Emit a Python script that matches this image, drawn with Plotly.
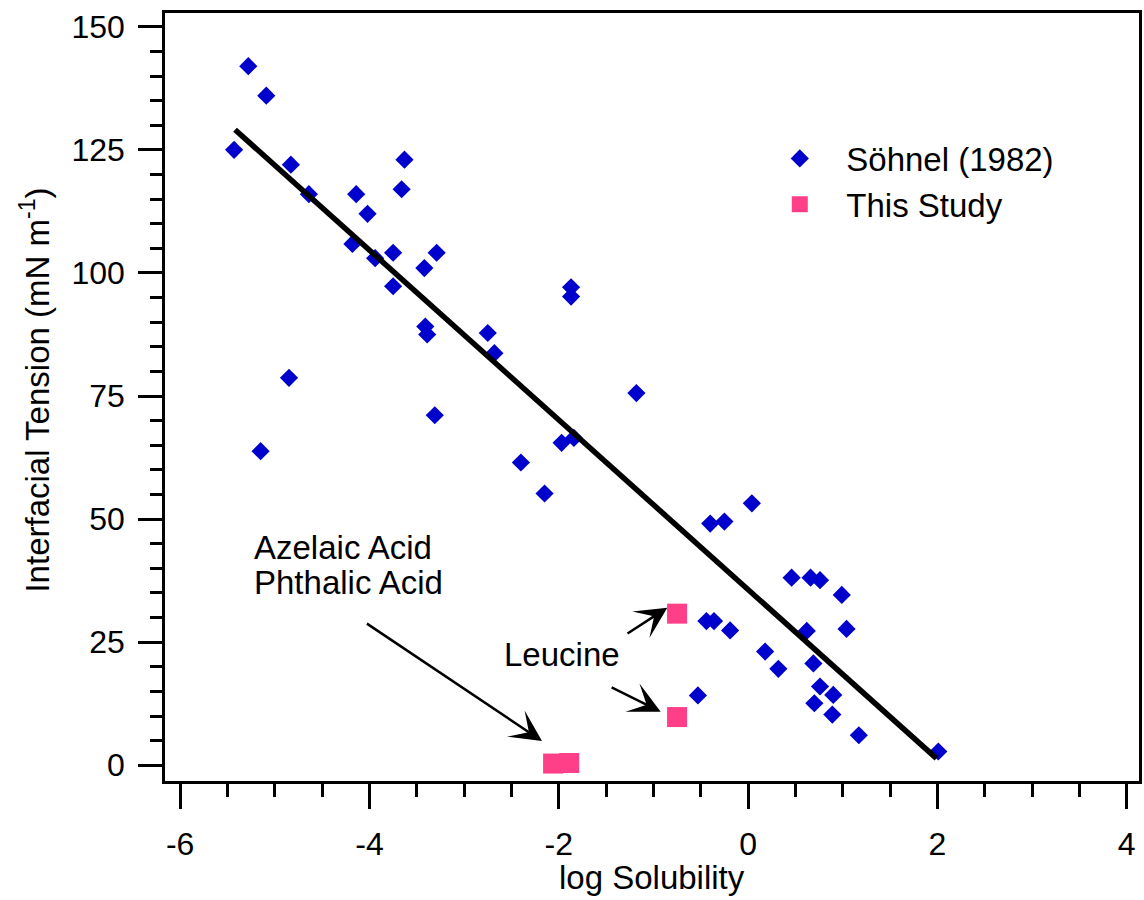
import plotly.graph_objects as go

# Söhnel (1982) data: log solubility vs interfacial tension (mN/m)
sohnel_x = [-5.43, -5.28, -5.09, -5.15, -4.85, -4.83, -4.64, -4.14, -4.18, -4.02,
            -3.94, -3.75, -3.75, -3.63, -3.66, -3.42, -3.41, -3.39, -3.29, -3.31,
            -2.75, -2.68, -2.40, -2.15, -1.97, -1.84, -1.87, -1.87, -1.18, -0.53,
            -0.40, -0.25, 0.04, -0.44, -0.36, -0.19, 0.18, 0.32, 0.46, 0.66,
            0.76, 0.99, 0.62, 1.04, 0.69, 0.76, 0.90, 0.70, 0.89, 1.17, 2.01]
sohnel_y = [125.0, 142.0, 136.0, 63.8, 78.7, 122.0, 116.0, 116.0, 105.9, 112.0,
            103.0, 104.1, 97.3, 123.0, 117.0, 101.0, 89.1, 87.5, 104.1, 71.1,
            87.8, 83.7, 61.5, 55.2, 65.5, 66.5, 97.1, 95.2, 75.6, 14.2,
            49.1, 49.5, 53.2, 29.3, 29.3, 27.4, 23.1, 19.6, 38.1, 38.1,
            37.6, 34.6, 27.3, 27.7, 20.7, 16.0, 14.3, 12.6, 10.3, 6.1, 2.8]

# This study
study_x = [-0.75, -0.75, -2.06, -1.89]
study_y = [30.8, 9.8, 0.35, 0.47]

# Linear fit (endpoints)
fit_x = [-5.42, 1.99]
fit_y = [129.1, 1.4]

x_ticks = [-6, -4, -2, 0, 2, 4]
x_ticktext = ["-6", "-4", "-2", "0", "2", "4"]
y_ticks = [0, 25, 50, 75, 100, 125, 150]
y_ticktext = ["0", "25", "50", "75", "100", "125", "150"]

FONT = "Liberation Sans, Arial, sans-serif"
BLUE = "#0000CC"
PINK = "#FF4088"
TXT = 33

fig = go.Figure()
fig.add_trace(go.Scatter(x=sohnel_x, y=sohnel_y, mode="markers", name="Söhnel (1982)",
                         marker=dict(symbol="diamond", size=14, color=BLUE, line=dict(width=0))))
fig.add_trace(go.Scatter(x=study_x, y=study_y, mode="markers", name="This Study",
                         marker=dict(symbol="square", size=20, color=PINK, line=dict(width=0))))
fig.add_trace(go.Scatter(x=fit_x, y=fit_y, mode="lines", showlegend=False,
                         line=dict(color="black", width=5.5)))

axis_common = dict(showline=True, linecolor="black", linewidth=2.5, mirror=True,
                   ticks="outside", tickcolor="black", tickwidth=2.5,
                   showgrid=False, zeroline=False,
                   tickfont=dict(family=FONT, size=32, color="black"))

fig.update_xaxes(range=[-6.16, 4.13], tickmode="array", tickvals=x_ticks, ticktext=x_ticktext,
                 ticklen=25, ticklabelstandoff=8,
                 minor=dict(dtick=0.5, tick0=0, ticklen=13, tickwidth=2.5, ticks="outside",
                            tickcolor="black", showgrid=False),
                 **axis_common)
fig.update_yaxes(range=[-3.19, 152.8], tickmode="array", tickvals=y_ticks, ticktext=y_ticktext,
                 ticklen=24, ticklabelstandoff=7,
                 minor=dict(dtick=5, tick0=0, ticklen=12, tickwidth=2.5, ticks="outside",
                            tickcolor="black", showgrid=False),
                 **axis_common)

annots = [
    dict(text="log Solubility", xref="paper", yref="paper", x=0.5, y=-0.125,
         xanchor="center", yanchor="middle", showarrow=False,
         font=dict(family=FONT, size=TXT, color="black")),
    dict(text="Interfacial Tension (mN m<sup>-1</sup>)", xref="paper", yref="paper",
         x=-0.133, y=0.509, textangle=-90, xanchor="center", yanchor="middle", showarrow=False,
         font=dict(family=FONT, size=TXT, color="black")),
    dict(text="Azelaic Acid", xref="x", yref="y", x=-5.24, y=44.2, xanchor="left",
         yanchor="middle", showarrow=False, font=dict(family=FONT, size=TXT, color="black")),
    dict(text="Phthalic Acid", xref="x", yref="y", x=-5.24, y=37.1, xanchor="left",
         yanchor="middle", showarrow=False, font=dict(family=FONT, size=TXT, color="black")),
    dict(text="Leucine", xref="x", yref="y", x=-1.963, y=22.6, xanchor="center",
         yanchor="middle", showarrow=False, font=dict(family=FONT, size=TXT, color="black")),
]
arrow_style = dict(text="", showarrow=True, arrowhead=3, arrowsize=2.1, arrowwidth=2.5,
                   arrowcolor="black", standoff=0, startstandoff=0, xref="x", yref="y")
annots.append(dict(x=-2.177, y=4.93, ax=-176.6, ay=-118.4, **arrow_style))
annots.append(dict(x=-0.853, y=32.0, ax=-41.3, ay=26.7, **arrow_style))
annots.append(dict(x=-0.923, y=10.9, ax=-50.6, ay=-25.0, **arrow_style))

fig.update_layout(
    width=1144, height=900,
    margin=dict(l=165, r=2, t=13, b=119),
    plot_bgcolor="white", paper_bgcolor="white",
    annotations=annots,
    legend=dict(x=0.604, y=0.847, xanchor="left", yanchor="top",
                font=dict(family=FONT, size=TXT, color="black"),
                itemwidth=83, bgcolor="rgba(0,0,0,0)", borderwidth=0,
                tracegroupgap=0),
)

fig.write_html("out.html")
